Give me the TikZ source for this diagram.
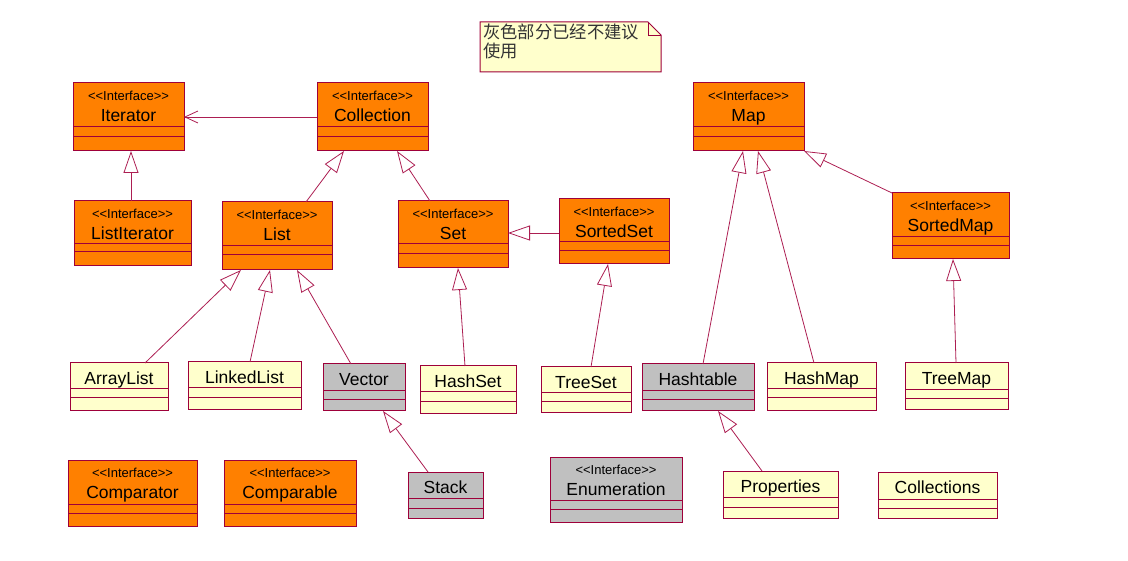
\documentclass[tikz,border=0pt]{standalone}
\usepackage{fontspec}
\usetikzlibrary{calc,arrows.meta}
\newfontfamily\umlfont{Liberation Sans}
\newfontfamily\cjkfont{Noto Sans CJK SC}
\definecolor{umlred}{RGB}{158,0,58}
\definecolor{umlline}{RGB}{172,30,82}
\definecolor{umlorange}{RGB}{255,128,0}
\definecolor{umlyellow}{RGB}{255,255,204}
\definecolor{umlgray}{RGB}{192,192,192}
\newcommand\stereotxt{<\kern0pt<Interface>\kern0pt>}

\tikzset{
  umlbox/.style={draw=umlred, line width=1pt, inner sep=0pt, outer sep=0pt, anchor=north west},
  iface/.style={umlbox, fill=umlorange},
  klass/.style={umlbox, fill=umlyellow},
  oldbox/.style={umlbox, fill=umlgray},
  divider/.style={draw=umlred, line width=1pt},
  stereo/.style={font=\umlfont\fontsize{13}{15}\selectfont, inner sep=0pt, anchor=base},
  clname/.style={font=\umlfont\fontsize{17.5}{19}\selectfont, inner sep=0pt, anchor=base},
  isa/.style={draw=umlline, line width=0.8pt, -{Triangle[open, length=22pt, width=15pt]}},
  uses/.style={draw=umlline, line width=0.8pt, -{Straight Barb[length=13pt, width=12pt]}},
}

\begin{document}
\begin{tikzpicture}[x=1pt,y=-1pt]
        \useasboundingbox (0,0) rectangle (1128,561);

        %the note
        \filldraw[draw=umlred, fill=umlyellow, line width=1pt]
          (480,22) -- (648,22) -- (661,35) -- (661,72) -- (480,72) -- cycle;
        \draw[umlred, line width=0.8pt] (648,22) -- (648,35) -- (661,35);
        \node[font=\cjkfont\fontsize{17.3}{19}\selectfont, text=black!80, align=left,
              inner sep=0pt, anchor=north west] (note) at (483,24) {灰色部分已经不建议\\使用};

        %the boxes: name/style/x/y/width/height/first divider/second divider
        \foreach \nm/\sty/\x/\y/\w/\h/\da/\db in {
            iterator/iface/73/83/111/68/44/54,
            collection/iface/317/83/111/68/44/54,
            listiter/iface/74/201/117/65/43/51,
            list/iface/222/202/110/68/44/53,
            set/iface/398/201/110/67/43/53,
            sortedset/iface/559/199/110/65/43/52,
            map/iface/693/83/111/68/44/54,
            sortedmap/iface/892/193/117/66/44/53,
            arraylist/klass/70/363/98/48/26/35,
            linkedlist/klass/188/362/113/48/26/36,
            vector/oldbox/323/364/82/47/27/36,
            hashset/klass/420/366/96/48/26/36,
            treeset/klass/541/367/90/46/26/35,
            hashtable/oldbox/642/364/112/47/27/36,
            hashmap/klass/767/363/109/48/26/35,
            treemap/klass/905/363/103/47/27/36,
            comparator/iface/68/460/129/66/44/53,
            comparable/iface/224/460/132/66/44/53,
            stack/oldbox/408/472/75/46/26/36,
            enumeration/oldbox/550/457/132/65/43/52,
            properties/klass/723/471/115/47/26/36,
            collections/klass/878/472/119/46/27/36}{
          \node[\sty, minimum width=\w, minimum height=\h] (\nm) at (\x,\y) {};
          \draw[divider] ($(\nm.north west)+(0,\da)$) -- ($(\nm.north east)+(0,\da)$)
                         ($(\nm.north west)+(0,\db)$) -- ($(\nm.north east)+(0,\db)$);
        }

        %interfaces
        \foreach \nm/\txt in {iterator/Iterator, collection/Collection, listiter/ListIterator,
            list/List, set/Set, sortedset/SortedSet, map/Map, sortedmap/SortedMap,
            comparator/Comparator, comparable/Comparable, enumeration/Enumeration}{
          \node[stereo] (\nm-st) at ($(\nm.north)+(0,17.5)$) {\stereotxt};
          \node[clname] (\nm-nm) at ($(\nm.north)+(0,38.5)$) {\txt};
        }

        %classes
        \foreach \nm/\txt in {arraylist/ArrayList, linkedlist/LinkedList, vector/Vector,
            hashset/HashSet, treeset/TreeSet, hashtable/Hashtable, hashmap/HashMap,
            treemap/TreeMap, stack/Stack, properties/Properties, collections/Collections}{
          \node[clname] (\nm-nm) at ($(\nm.north)+(0,21.5)$) {\txt};
        }

        %inheritance, child top to parent bottom
        \foreach \from/\fo/\to/\tof in {listiter/57/iterator/58, list/84/collection/27,
            set/32/collection/80, arraylist/75/list/19, linkedlist/62/list/48,
            vector/28/list/75, hashset/45/set/60, treeset/50/sortedset/49,
            stack/20/vector/60, hashtable/61/map/50, hashmap/47/map/65,
            treemap/51/sortedmap/61, properties/39/hashtable/76}{
          \draw[isa] ($(\from.north west)+(\fo,0)$) -- ($(\to.south west)+(\tof,0)$);
        }
        \draw[isa] ($(sortedset.north west)+(0,34)$) -- ($(set.north east)+(0,32)$);
        \draw[isa] (sortedmap.north west) -- (map.south east);

        %collection to iterator
        \draw[uses] ($(collection.north west)+(0,34)$) -- ($(iterator.north east)+(0,34)$);
      \end{tikzpicture}
\end{document}
